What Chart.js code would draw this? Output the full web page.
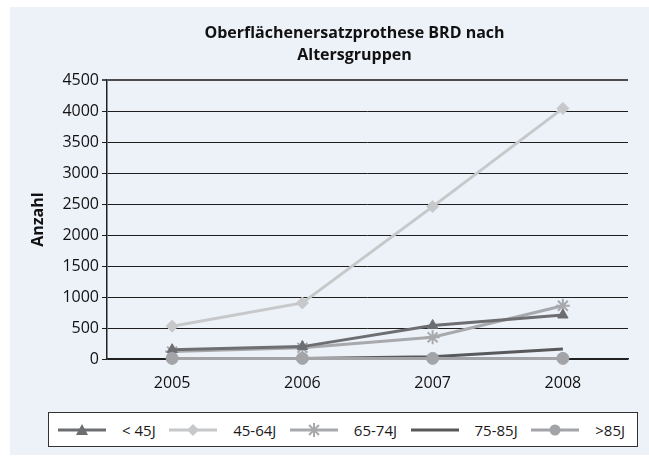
<!DOCTYPE html>
<html>
<head>
<meta charset="utf-8">
<script src="https://cdn.jsdelivr.net/npm/chart.js@4"></script>
<style>
  html, body { margin: 0; padding: 0; background: #fff; }
  body { width: 649px; height: 457px; position: relative; overflow: hidden; }
  #panel { position: absolute; left: 10px; top: 7px; width: 639px; height: 448px; background: #edf1f8; }
  #chart { position: absolute; left: 10px; top: 7px; }
  #legend {
    position: absolute; left: 48px; top: 412px; width: 590px; height: 35px;
    box-sizing: border-box; border: 1px solid #333; background: #fff;
    display: flex; align-items: center; justify-content: space-between;
    padding: 0 12px 0 9px;
    font-family: "Open Sans", sans-serif; font-size: 15px; color: #1a1a1a;
  }
  .item { display: flex; align-items: center; }
  .item span { margin-left: 16px; white-space: nowrap; }
</style>
</head>
<body>
<div id="panel"></div>
<canvas id="chart" width="639" height="448"></canvas>
<div id="legend"></div>
<script>
const years = ["2005", "2006", "2007", "2008"];
const seriesNames = ["< 45J", "45-64J", "65-74J", "75-85J", ">85J"];
const under45 = [150, 200, 540, 710];
const age45to64 = [530, 905, 2460, 4045];
const age65to74 = [120, 180, 350, 860];
const age75to85 = [10, 10, 35, 160];
const over85 = [10, 10, 10, 10];
const yTicks = [0, 500, 1000, 1500, 2000, 2500, 3000, 3500, 4000, 4500];

const seriesValues = [under45, age45to64, age65to74, age75to85, over85];
const colors = ["#6d6e71", "#c6c8ca", "#a7a9ac", "#58595b", "#a2a4a7"];
const markers = ["triangle", "rectRot", "star", false, "circle"];
const FONT = "'Open Sans', sans-serif";

// centre the title over the plot like the original, not over the whole canvas
const titleShift = {
  id: "titleShift",
  afterLayout(chart) {
    if (chart.titleBlock) {
      chart.titleBlock.left = 50;
      chart.titleBlock.right = chart.width;
    }
  },
};

document.addEventListener("DOMContentLoaded", () => {
  const ctx = document.getElementById("chart").getContext("2d");

  const datasets = seriesNames.map((name, i) => ({
    label: name,
    data: seriesValues[i],
    borderColor: colors[i],
    backgroundColor: colors[i],
    borderWidth: 3,
    pointStyle: markers[i],
    pointRadius: markers[i] ? (markers[i] === "star" ? 7 : 6) : 0,
    pointBorderWidth: markers[i] === "star" ? 2 : 1,
    pointBackgroundColor: colors[i],
    pointBorderColor: colors[i],
    tension: 0,
    clip: false,
    order: markers[i] === "circle" ? -1 : 0, // circles sit on top like in the original
  }));

  new Chart(ctx, {
    type: "line",
    data: { labels: years, datasets },
    plugins: [titleShift],
    options: {
      responsive: false,
      animation: false,
      devicePixelRatio: 1,
      layout: { padding: { top: 0, left: 0, right: 21, bottom: 56 } },
      plugins: {
        legend: { display: false },
        tooltip: { enabled: false },
        title: {
          display: true,
          text: ["Oberflächenersatzprothese BRD nach", "Altersgruppen"],
          color: "#111",
          font: { family: FONT, size: 16, weight: "bold", lineHeight: 1.35 },
          padding: { top: 16, bottom: 14 },
        },
      },
      scales: {
        x: {
          offset: true,
          grid: { display: false, drawTicks: false, offset: true },
          border: { display: true, color: "#222", width: 1.5 },
          ticks: { color: "#111", font: { family: FONT, size: 16 }, padding: 15 },
          afterFit: (s) => { s.height = 40; },
        },
        y: {
          min: 0,
          max: 4500,
          afterBuildTicks: (s) => { s.ticks = yTicks.map((v) => ({ value: v })); },
          grid: {
            color: (c) => (c.tick && c.tick.value === 4500 ? "#4d4d4f" : "#1e1e1e"),
            lineWidth: (c) => (c.tick && c.tick.value === 4500 ? 2 : 1),
            tickLength: 5,
          },
          border: { display: true, color: "#222", width: 1.5 },
          ticks: {
            color: "#111",
            font: { family: FONT, size: 16 },
            padding: 3,
            callback: (v) => String(v),
          },
          title: {
            display: true,
            text: "Anzahl",
            color: "#111",
            font: { family: FONT, size: 16, weight: "bold" },
            padding: { top: 19, bottom: 0 },
          },
          afterFit: (s) => { s.width = 97; },
        },
      },
    },
  });

  // legend built from the same series arrays
  const legend = document.getElementById("legend");
  seriesNames.forEach((name, i) => {
    const c = colors[i];
    let mark = "";
    if (markers[i] === "triangle") mark = `<polygon points="24,1 30,12 18,12" fill="${c}"/>`;
    else if (markers[i] === "rectRot") mark = `<polygon points="24,1 30,7 24,13 18,7" fill="${c}"/>`;
    else if (markers[i] === "star") mark = `<g stroke="${c}" stroke-width="2"><line x1="24" y1="0" x2="24" y2="14"/><line x1="17" y1="7" x2="31" y2="7"/><line x1="19" y1="2" x2="29" y2="12"/><line x1="29" y1="2" x2="19" y2="12"/></g>`;
    else if (markers[i] === "circle") mark = `<circle cx="24" cy="7" r="5.5" fill="${c}"/>`;
    const item = document.createElement("div");
    item.className = "item";
    item.innerHTML = `<svg width="48" height="14"><line x1="0" y1="7" x2="48" y2="7" stroke="${c}" stroke-width="3"/>${mark}</svg>`;
    const label = document.createElement("span");
    label.textContent = name;
    item.appendChild(label);
    legend.appendChild(item);
  });
});
</script>
</body>
</html>
